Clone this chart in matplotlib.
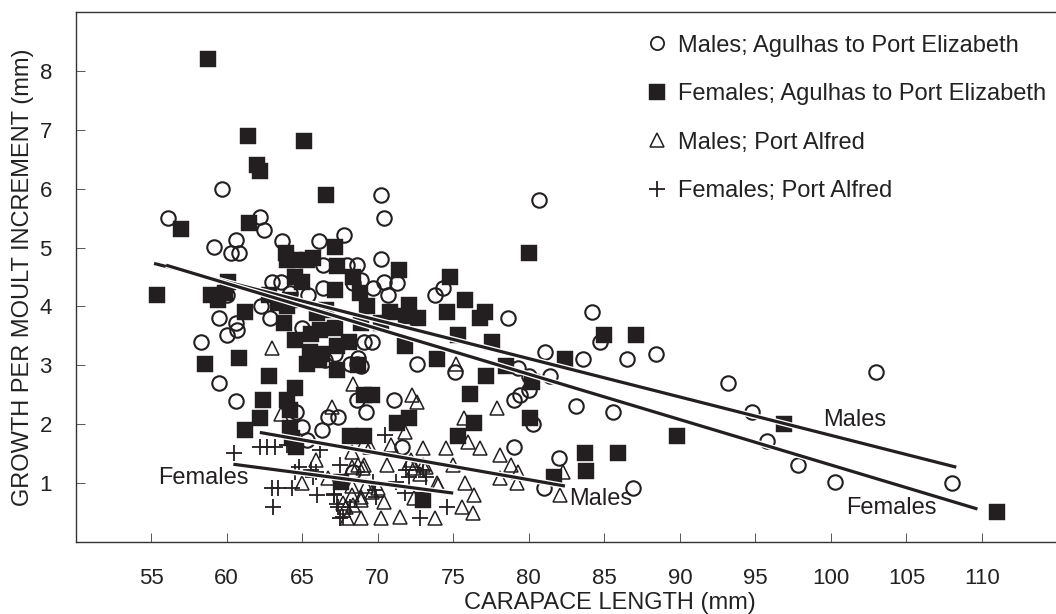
import matplotlib
matplotlib.use('Agg')
import matplotlib.pyplot as plt
import matplotlib.patheffects as pe
from matplotlib.lines import Line2D

plt.rcParams['font.family'] = ['Liberation Sans', 'DejaVu Sans']

INK = '#231f20'

# ---------------- data ----------------
# Males; Agulhas to Port Elizabeth (open circles)
males_ag_x = [56.1, 59.7, 59.2, 60.6, 60.3, 60.8, 62.2, 62.5, 63.7, 66.1, 67.8, 66.4, 68.0, 68.6,
              63.0, 63.6, 66.4, 68.4, 62.3, 64.2, 65.4, 60.0, 62.9, 59.5, 60.6, 60.7, 60.0, 65.0,
              58.3, 67.2, 68.2, 68.6, 66.5, 59.5, 60.6, 64.6, 65.0, 65.3, 66.3, 66.7, 67.4, 70.2,
              70.4, 80.7, 70.2, 68.9, 70.4, 71.3, 69.7, 70.7, 73.8, 74.3, 78.6, 69.1, 69.6, 68.7,
              72.6, 79.3, 81.1, 84.2, 84.7, 83.6, 86.5, 88.4, 93.2, 94.8, 95.8, 97.8, 100.3, 103.0,
              108.0, 83.1, 85.6, 86.9, 82.0, 68.9, 75.1, 80.0, 81.4, 80.0, 79.4, 79.0, 68.6, 69.2,
              71.1, 80.3, 71.6, 79.0, 81.0, 68.4]
males_ag_y = [5.50, 6.00, 5.01, 5.12, 4.91, 4.91, 5.51, 5.30, 5.11, 5.11, 5.21, 4.70, 4.70, 4.70,
              4.42, 4.42, 4.31, 4.39, 4.00, 4.22, 4.19, 4.19, 3.80, 3.81, 3.71, 3.60, 3.51, 3.63,
              3.40, 3.20, 3.03, 3.03, 3.09, 2.70, 2.40, 2.21, 1.96, 1.73, 1.90, 2.13, 2.13, 5.90,
              5.50, 5.80, 4.80, 4.45, 4.42, 4.39, 4.31, 4.19, 4.19, 4.31, 3.80, 3.40, 3.40, 3.12,
              3.03, 2.95, 3.22, 3.90, 3.40, 3.10, 3.10, 3.20, 2.70, 2.20, 1.71, 1.31, 1.01, 2.89,
              1.00, 2.31, 2.21, 0.91, 1.42, 2.98, 2.89, 2.81, 2.81, 2.58, 2.50, 2.41, 2.41, 2.21,
              2.41, 2.00, 1.62, 1.61, 0.91, 1.19]

# Females; Agulhas to Port Elizabeth (filled squares)
females_ag_x = [58.8, 61.4, 65.1, 62.0, 62.2, 66.6, 57.0, 61.5, 67.2, 63.9, 64.0, 64.5, 65.3, 65.7,
                67.3, 60.1, 55.4, 59.0, 59.4, 59.9, 62.8, 64.5, 65.0, 67.2, 63.4, 64.0, 64.2, 61.2,
                63.8, 66.0, 66.6, 66.2, 65.6, 64.5, 65.5, 66.3, 60.8, 58.6, 67.2, 67.3, 68.1, 66.1,
                65.3, 62.8, 62.4, 62.2, 61.2, 64.5, 64.0, 64.2, 64.2, 64.3, 64.6, 80.0, 71.4, 68.4,
                74.8, 68.8, 69.3, 70.8, 72.1, 71.9, 72.7, 75.8, 74.6, 77.1, 76.8, 68.9, 70.2, 75.3,
                77.6, 71.8, 68.7, 73.9, 78.5, 82.4, 85.0, 87.1, 96.9, 89.8, 83.7, 85.9, 83.8, 111.0,
                67.3, 77.2, 80.2, 69.1, 69.6, 76.1, 71.3, 72.1, 76.4, 80.1, 68.2, 69.1, 75.3, 81.7,
                73.0, 67.6]
females_ag_y = [8.20, 6.90, 6.81, 6.40, 6.30, 5.90, 5.31, 5.41, 5.01, 4.90, 4.78, 4.79, 4.79, 4.82,
                4.69, 4.42, 4.20, 4.19, 4.11, 4.22, 4.19, 4.50, 4.42, 4.28, 4.05, 4.00, 4.11, 3.91,
                3.71, 3.88, 3.94, 3.60, 3.54, 3.43, 3.23, 3.20, 3.12, 3.03, 3.63, 3.32, 3.40, 3.09,
                3.03, 2.81, 2.41, 2.11, 1.90, 2.61, 2.41, 2.24, 1.93, 1.76, 1.62, 4.90, 4.62, 4.50,
                4.50, 4.22, 4.00, 3.91, 4.02, 3.83, 3.80, 4.11, 3.91, 3.91, 3.80, 3.71, 3.71, 3.51,
                3.40, 3.32, 3.00, 3.10, 2.98, 3.10, 3.51, 3.51, 2.01, 1.80, 1.51, 1.51, 1.21, 0.51,
                2.92, 2.81, 2.71, 2.50, 2.50, 2.51, 2.02, 2.10, 2.02, 2.11, 1.80, 1.80, 1.80, 1.11,
                0.71, 1.02]

# Males; Port Alfred (open triangles)
males_pa_x = [63.0, 63.6, 67.0, 65.9, 75.2, 82.3, 82.1, 68.4, 72.3, 72.6, 77.9, 75.7, 71.8, 73.0,
              74.5, 76.0, 76.8, 78.1, 70.6, 72.1, 73.0, 75.0, 78.8, 79.3, 78.1, 79.2, 75.8, 76.4,
              75.6, 76.3, 73.9, 73.8, 72.4, 70.4, 69.6, 68.9, 67.7, 68.0, 68.9, 70.2, 68.7, 69.1,
              68.3, 69.2, 68.3, 68.9, 70.0, 65.0, 66.7, 67.9, 68.4, 68.3, 69.5, 69.1, 70.9, 68.3,
              69.0, 72.2, 72.4, 73.2, 72.8, 74.0, 71.5]
males_pa_y = [3.29, 2.18, 2.30, 1.39, 3.03, 1.19, 0.80, 2.69, 2.50, 2.38, 2.27, 2.10, 1.87, 1.59,
              1.59, 1.70, 1.59, 1.48, 1.31, 1.34, 1.31, 1.31, 1.31, 1.19, 1.08, 1.00, 1.00, 0.80,
              0.60, 0.50, 1.00, 0.40, 0.74, 0.68, 0.85, 0.71, 0.66, 0.40, 0.40, 0.40, 1.31, 1.31,
              0.95, 0.95, 0.80, 0.77, 0.91, 1.00, 1.08, 0.60, 0.63, 1.53, 1.62, 1.68, 1.65, 1.28,
              1.26, 1.39, 1.25, 1.28, 1.16, 0.97, 0.43]

# Females; Port Alfred (plus signs)
females_pa_x = [60.5, 62.2, 62.7, 63.2, 64.0, 66.2, 64.8, 64.5, 65.7, 65.6, 63.0, 63.4, 64.3, 63.1,
                66.0, 67.1, 67.4, 67.7, 74.6, 72.8, 71.9, 72.1, 73.0, 73.2, 71.8, 71.2, 69.7, 67.5,
                67.3, 67.1, 67.5, 70.5, 69.8, 69.9, 68.2, 65.9]
females_pa_y = [1.51, 1.61, 1.61, 1.61, 1.65, 1.56, 1.28, 1.19, 1.11, 1.22, 0.91, 0.91, 0.91, 0.60,
                0.80, 0.80, 0.60, 0.43, 0.60, 0.40, 1.22, 1.11, 1.22, 1.11, 0.83, 1.02, 1.02, 0.40,
                0.65, 0.82, 1.31, 1.82, 0.88, 0.77, 0.60, 1.18]

# Regression lines (end points)
fit_males_ag_x = [55.2, 108.3]
fit_males_ag_y = [4.73, 1.27]
fit_females_ag_x = [56.0, 109.7]
fit_females_ag_y = [4.70, 0.56]
fit_males_pa_x = [62.2, 82.4]
fit_males_pa_y = [1.86, 0.95]
fit_females_pa_x = [60.45, 75.0]
fit_females_pa_y = [1.32, 0.83]

x_ticks = [55, 60, 65, 70, 75, 80, 85, 90, 95, 100, 105, 110]
y_ticks = [1, 2, 3, 4, 5, 6, 7, 8]

legend_labels = ['Males; Agulhas to Port Elizabeth',
                 'Females; Agulhas to Port Elizabeth',
                 'Males; Port Alfred',
                 'Females; Port Alfred']

# ---------------- figure ----------------
fig = plt.figure(figsize=(10.56, 6.14), dpi=100)
ax = fig.add_axes([0.0715, 0.1173, 0.9285, 0.8632])
ax.set_xlim(50, 114.9)
ax.set_ylim(0, 9)

ax.plot(males_ag_x, males_ag_y, ls='none', marker='o', ms=10.4, mfc='none', mec=INK, mew=1.5, zorder=3)
ax.plot(males_pa_x, males_pa_y, ls='none', marker='^', ms=10.5, mfc='none', mec=INK, mew=1.1, zorder=3)
ax.plot(females_pa_x, females_pa_y, ls='none', marker='+', ms=11.5, mec=INK, mew=1.3, zorder=3)
ax.plot(females_ag_x, females_ag_y, ls='none', marker='s', ms=11.8, mfc=INK, mec=INK, mew=0.3, zorder=4)

halo = [pe.Stroke(linewidth=4.2, foreground='white'), pe.Normal()]
for fx, fy in [(fit_males_ag_x, fit_males_ag_y), (fit_females_ag_x, fit_females_ag_y),
               (fit_males_pa_x, fit_males_pa_y), (fit_females_pa_x, fit_females_pa_y)]:
    ax.plot(fx, fy, color=INK, lw=2.3, solid_capstyle='butt', zorder=5, path_effects=halo)

tfs = 17
ax.text(99.5, 2.07, 'Males', ha='left', va='center', fontsize=tfs, color=INK, zorder=6)
ax.text(101.0, 0.58, 'Females', ha='left', va='center', fontsize=tfs, color=INK, zorder=6)
ax.text(82.7, 0.73, 'Males', ha='left', va='center', fontsize=tfs, color=INK, zorder=6)
ax.text(55.46, 1.09, 'Females', ha='left', va='center', fontsize=tfs, color=INK, zorder=6)

# axes styling
for s in ['left', 'bottom', 'top']:
    ax.spines[s].set_color('#333333')
    ax.spines[s].set_linewidth(1.0)
ax.spines['right'].set_visible(False)

ax.set_xticks(x_ticks)
ax.set_xticklabels([str(t) for t in x_ticks])
ax.set_yticks(y_ticks)
ax.set_yticklabels([str(t) for t in y_ticks])
ax.tick_params(axis='both', direction='in', length=6.5, width=0.7, color='#555555',
               labelsize=16, labelcolor='#222222')
ax.tick_params(axis='x', pad=18.5)
ax.tick_params(axis='y', pad=17)

ax.set_xlabel('CARAPACE LENGTH (mm)', fontsize=17, color='#222222')
ax.xaxis.set_label_coords(0.545, -0.094)
ax.set_ylabel('GROWTH PER MOULT INCREMENT (mm)', fontsize=17, color='#222222')
ax.yaxis.set_label_coords(-0.042, 0.5)

handles = [
    Line2D([], [], ls='none', marker='o', ms=9.5, mfc='none', mec=INK, mew=1.3),
    Line2D([], [], ls='none', marker='s', ms=11.0, mfc=INK, mec=INK, mew=0.3),
    Line2D([], [], ls='none', marker='^', ms=10.0, mfc='none', mec=INK, mew=1.1),
    Line2D([], [], ls='none', marker='+', ms=11.0, mec=INK, mew=1.3),
]
ax.legend(handles, legend_labels, loc='upper left', bbox_to_anchor=(0.5835, 0.957),
          frameon=False, handlelength=0.8, handletextpad=0.49, labelspacing=1.12,
          borderpad=0, borderaxespad=0, fontsize=17, labelcolor='#222222')

fig.savefig('out.png', dpi=100)
